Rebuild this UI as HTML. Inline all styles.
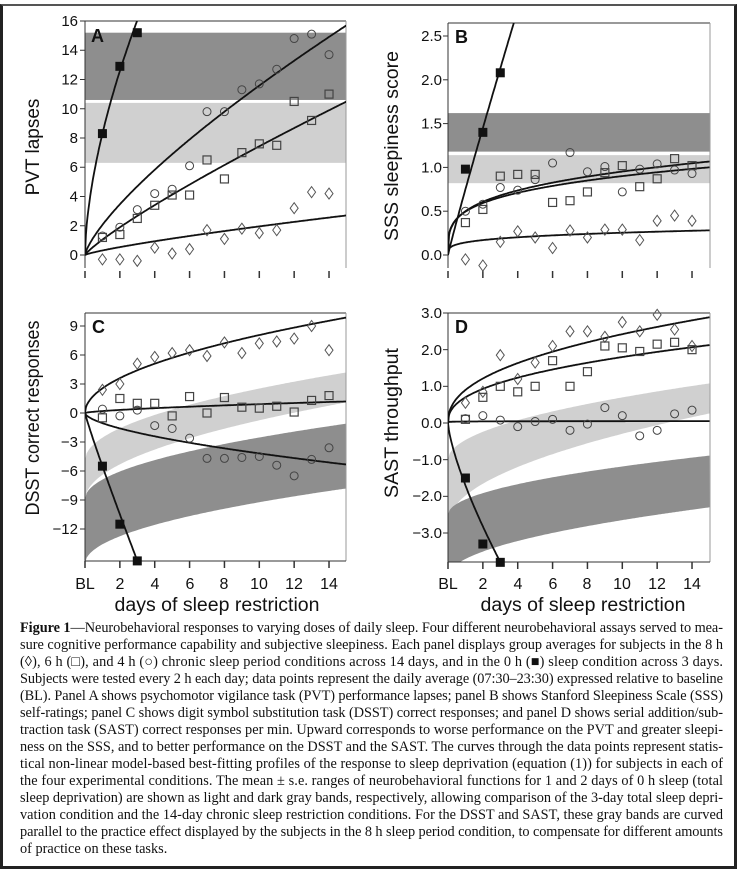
<!DOCTYPE html>
<html><head><meta charset="utf-8">
<style>
html,body{margin:0;padding:0;background:#fff;}
#wrap{position:relative;width:740px;height:871px;overflow:hidden;}
#frame{position:absolute;left:0px;top:4px;width:731px;height:860px;border:3px solid #222;border-top:2px solid #555;}
svg{position:absolute;left:0;top:0;}
</style></head><body>
<div id="wrap">
<div id="frame"></div>
<svg id="s" width="740" height="871" viewBox="0 0 740 871" font-family="Liberation Sans, DejaVu Sans, sans-serif">
<defs>
<clipPath id="cA"><rect x="85" y="21" width="261" height="247"/></clipPath>
<clipPath id="cB"><rect x="448" y="23" width="262" height="245"/></clipPath>
<clipPath id="cC"><rect x="85" y="313" width="261" height="248"/></clipPath>
<clipPath id="cD"><rect x="448" y="313" width="262" height="249"/></clipPath>
</defs>
<g id="g"></g>
<g font-size="15" fill="#111" text-anchor="end">
<text x="78" y="260">0</text><text x="78" y="231">2</text><text x="78" y="201.5">4</text><text x="78" y="172">6</text><text x="78" y="143">8</text><text x="78" y="114">10</text><text x="78" y="84.5">12</text><text x="78" y="55">14</text><text x="78" y="26">16</text>
<text x="442" y="260">0.0</text><text x="442" y="216">0.5</text><text x="442" y="172.5">1.0</text><text x="442" y="128.5">1.5</text><text x="442" y="85">2.0</text><text x="442" y="41">2.5</text>
<text x="78" y="331">9</text><text x="78" y="360">6</text><text x="78" y="389">3</text><text x="78" y="418">0</text><text x="78" y="447">−3</text><text x="78" y="476">−6</text><text x="78" y="505">−9</text><text x="78" y="534">−12</text>
<text x="442" y="318">3.0</text><text x="442" y="355">2.0</text><text x="442" y="391">1.0</text><text x="442" y="428">0.0</text><text x="442" y="465">−1.0</text><text x="442" y="501">−2.0</text><text x="442" y="538">−3.0</text>
</g>
<g font-size="16" fill="#111" text-anchor="middle">
<text x="85" y="589">BL</text><text x="120" y="589">2</text><text x="155" y="589">4</text><text x="190" y="589">6</text><text x="224" y="589">8</text><text x="259" y="589">10</text><text x="294" y="589">12</text><text x="329" y="589">14</text>
<text x="448" y="589">BL</text><text x="483" y="589">2</text><text x="518" y="589">4</text><text x="553" y="589">6</text><text x="587" y="589">8</text><text x="622" y="589">10</text><text x="657" y="589">12</text><text x="692" y="589">14</text>
</g>
<g font-size="19" fill="#111" text-anchor="middle">
<text x="217" y="611" textLength="205" lengthAdjust="spacingAndGlyphs">days of sleep restriction</text>
<text x="583" y="611" textLength="205" lengthAdjust="spacingAndGlyphs">days of sleep restriction</text>
<text transform="translate(39,147) rotate(-90)">PVT lapses</text>
<text transform="translate(398,146) rotate(-90)" textLength="190" lengthAdjust="spacingAndGlyphs">SSS sleepiness score</text>
<text transform="translate(39,418) rotate(-90)" textLength="195" lengthAdjust="spacingAndGlyphs">DSST correct responses</text>
<text transform="translate(398,423) rotate(-90)" textLength="150" lengthAdjust="spacingAndGlyphs">SAST throughput</text>
</g>
<g font-size="18" font-weight="bold" fill="#111">
<text x="91" y="42">A</text><text x="455" y="43">B</text><text x="92" y="333">C</text><text x="455" y="333">D</text>
</g>
<g font-family="Liberation Serif, serif" font-size="14.3" fill="#111">
<text x="20" y="632" textLength="703" lengthAdjust="spacing"><tspan font-weight="bold">Figure 1</tspan>—Neurobehavioral responses to varying doses of daily sleep. Four different neurobehavioral assays served to mea-</text>
<text x="20" y="649" textLength="703" lengthAdjust="spacing">sure cognitive performance capability and subjective sleepiness. Each panel displays group averages for subjects in the 8 h</text>
<text x="20" y="666" textLength="703" lengthAdjust="spacing">(◊), 6 h (□), and 4 h (○) chronic sleep period conditions across 14 days, and in the 0 h (■) sleep condition across 3 days.</text>
<text x="20" y="683" textLength="703" lengthAdjust="spacing">Subjects were tested every 2 h each day; data points represent the daily average (07:30–23:30) expressed relative to baseline</text>
<text x="20" y="700" textLength="703" lengthAdjust="spacing">(BL). Panel A shows psychomotor vigilance task (PVT) performance lapses; panel B shows Stanford Sleepiness Scale (SSS)</text>
<text x="20" y="717" textLength="703" lengthAdjust="spacing">self-ratings; panel C shows digit symbol substitution task (DSST) correct responses; and panel D shows serial addition/sub-</text>
<text x="20" y="734" textLength="703" lengthAdjust="spacing">traction task (SAST) correct responses per min. Upward corresponds to worse performance on the PVT and greater sleepi-</text>
<text x="20" y="751" textLength="703" lengthAdjust="spacing">ness on the SSS, and to better performance on the DSST and the SAST. The curves through the data points represent statis-</text>
<text x="20" y="768" textLength="703" lengthAdjust="spacing">tical non-linear model-based best-fitting profiles of the response to sleep deprivation (equation (1)) for subjects in each of</text>
<text x="20" y="785" textLength="703" lengthAdjust="spacing">the four experimental conditions. The mean ± s.e. ranges of neurobehavioral functions for 1 and 2 days of 0 h sleep (total</text>
<text x="20" y="802" textLength="703" lengthAdjust="spacing">sleep deprivation) are shown as light and dark gray bands, respectively, allowing comparison of the 3-day total sleep depri-</text>
<text x="20" y="819" textLength="703" lengthAdjust="spacing">vation condition and the 14-day chronic sleep restriction conditions. For the DSST and SAST, these gray bands are curved</text>
<text x="20" y="836" textLength="703" lengthAdjust="spacing">parallel to the practice effect displayed by the subjects in the 8 h sleep period condition, to compensate for different amounts</text>
<text x="20" y="853">of practice on these tasks.</text>
</g>
</svg>
</div>
<script>
(function(){
var G=document.getElementById("g"),out="";
var DX=17.43,DARK="#8e8e8e",LIGHT="#d0d0d0";
var P={
A:{x0:85,y0:255,sy:14.625,top:21,bot:268,r:346,clip:"cA",box:false,yt:[0,2,4,6,8,10,12,14,16]},
B:{x0:448,y0:255,sy:87.6,top:23,bot:268,r:710,clip:"cB",box:false,yt:[0,0.5,1,1.5,2,2.5]},
C:{x0:85,y0:413,sy:9.667,top:313,bot:561,r:346,clip:"cC",box:true,yt:[9,6,3,0,-3,-6,-9,-12]},
D:{x0:448,y0:423,sy:36.67,top:313,bot:562,r:710,clip:"cD",box:true,yt:[3,2,1,0,-1,-2,-3]}};
function X(p,t){return p.x0+t*DX;}function Y(p,v){return p.y0-v*p.sy;}
function flatBand(p,a,b,c){out+='<rect x="'+p.x0+'" y="'+Y(p,a)+'" width="'+(p.r-p.x0)+'" height="'+(Y(p,b)-Y(p,a))+'" fill="'+c+'"/>';}
function curvBand(p,ua,ub,la,lb,c){var t,pts=[];for(t=0;t<=15.001;t+=0.1)pts.push(X(p,t).toFixed(1)+","+Y(p,ua+(ub-ua)*Math.sqrt(t/15)).toFixed(1));
for(t=15;t>=-0.001;t-=0.1)pts.push(X(p,t).toFixed(1)+","+Y(p,la+(lb-la)*Math.sqrt(Math.max(t,0)/15)).toFixed(1));
out+='<polygon clip-path="url(#'+p.clip+')" points="'+pts.join(" ")+'" fill="'+c+'"/>';}
function curve(p,a,pw,tmax){var pts=[],t;for(t=0;t<=(tmax||15)+0.001;t+=0.05)pts.push(X(p,t).toFixed(1)+","+Y(p,a*Math.pow(t,pw)).toFixed(1));
out+='<polyline clip-path="url(#'+p.clip+')" points="'+pts.join(" ")+'" fill="none" stroke="#111" stroke-width="1.8"/>';}
function dia(p,d){d.forEach(function(v,i){var x=X(p,i+1),y=Y(p,v);out+='<polygon points="'+x+','+(y-5.5)+' '+(x+4)+','+y+' '+x+','+(y+5.5)+' '+(x-4)+','+y+'" fill="none" stroke="#555" stroke-width="1"/>';});}
function sq(p,d){d.forEach(function(v,i){var x=X(p,i+1),y=Y(p,v);out+='<rect x="'+(x-4)+'" y="'+(y-4)+'" width="8" height="8" fill="none" stroke="#444" stroke-width="1.2"/>';});}
function ci(p,d){d.forEach(function(v,i){var x=X(p,i+1),y=Y(p,v);out+='<circle cx="'+x+'" cy="'+y+'" r="4" fill="none" stroke="#444" stroke-width="1"/>';});}
function fs(p,d){d.forEach(function(v,i){var x=X(p,i+1),y=Y(p,v);out+='<rect x="'+(x-4.5)+'" y="'+(y-4.5)+'" width="9" height="9" fill="#111"/>';});}
function frame(p){var s='<g stroke="#333" stroke-width="1" fill="none">';
s+='<line x1="'+p.x0+'" y1="'+p.top+'" x2="'+p.r+'" y2="'+p.top+'"/>';
s+='<line x1="'+p.x0+'" y1="'+p.top+'" x2="'+p.x0+'" y2="'+p.bot+'"/>';
s+='<line x1="'+p.r+'" y1="'+p.top+'" x2="'+p.r+'" y2="'+p.bot+'" stroke="#999"/>';
p.yt.forEach(function(v){var y=Y(p,v);s+='<line x1="'+(p.x0-5)+'" y1="'+y+'" x2="'+p.x0+'" y2="'+y+'"/>';});
var ty1=p.box?p.bot:p.bot+3,ty2=p.box?p.bot+7:p.bot+10;
if(p.box)s+='<line x1="'+p.x0+'" y1="'+p.bot+'" x2="'+p.r+'" y2="'+p.bot+'"/>';
for(var t=0;t<=14;t+=2)s+='<line x1="'+X(p,t)+'" y1="'+ty1+'" x2="'+X(p,t)+'" y2="'+ty2+'" stroke-width="1.5"/>';
s+='</g>';out+=s;}
var A=P.A,B=P.B,C=P.C,D=P.D;
flatBand(A,15.2,10.6,DARK);flatBand(A,10.4,6.3,LIGHT);
flatBand(B,1.62,1.18,DARK);flatBand(B,1.14,0.82,LIGHT);
curvBand(C,-4.9,4.2,-9,1.1,LIGHT);curvBand(C,-8.9,-1.1,-15.6,-7.8,DARK);
curvBand(D,-1.0,1.08,-2.76,0.26,LIGHT);curvBand(D,-2.5,-0.89,-4.2,-2.3,DARK);
for(var k in P)frame(P[k]);
curve(A,0.31,0.8);curve(A,1.05,0.85);curve(A,2.06,0.75);curve(A,8.3,0.6,4);
curve(B,0.143,0.25);curve(B,0.5,0.28);curve(B,0.495,0.26);curve(B,0.75,0.95,4.5);
curve(C,2.55,0.5);curve(C,0.2,0.66);curve(C,-1.05,0.6);curve(C,-5.5,0.93,3.2);
curve(D,0.9,0.43);curve(D,0.7,0.41);curve(D,0.04,0.1);curve(D,-1.7,0.73,3.2);
dia(A,[-0.3,-0.3,-0.4,0.5,0.1,0.4,1.7,1.1,1.8,1.5,1.7,3.2,4.3,4.2]);
sq(A,[1.2,1.4,2.5,3.4,4.1,4.1,6.5,5.2,7.0,7.6,7.5,10.5,9.2,11.0]);
ci(A,[1.3,1.9,3.1,4.2,4.5,6.1,9.8,9.8,11.3,11.7,12.7,14.8,15.1,13.7]);
fs(A,[8.3,12.9,15.2]);
dia(B,[-0.05,-0.12,0.15,0.27,0.2,0.08,0.28,0.2,0.29,0.29,0.17,0.39,0.45,0.39]);
sq(B,[0.37,0.52,0.9,0.92,0.92,0.6,0.62,0.72,0.94,1.02,0.78,0.87,1.1,1.02]);
ci(B,[0.5,0.58,0.77,0.74,0.86,1.05,1.17,0.95,1.01,0.72,0.98,1.04,0.97,0.93]);
fs(B,[0.98,1.4,2.08]);
dia(C,[2.4,3.0,5.1,5.8,6.2,6.5,5.9,7.3,6.2,7.2,7.4,7.7,9.0,6.5]);
sq(C,[-0.5,1.5,1.0,1.0,-0.3,1.7,0.0,1.6,0.6,0.5,0.7,0.1,1.3,1.8]);
ci(C,[0.4,-0.3,0.3,-1.3,-1.6,-2.6,-4.7,-4.7,-4.6,-4.5,-5.4,-6.5,-4.8,-3.6]);
fs(C,[-5.5,-11.5,-15.3]);
dia(D,[0.55,0.85,1.85,1.2,1.65,2.1,2.5,2.5,2.35,2.75,2.5,2.95,2.55,2.1]);
sq(D,[0.1,0.7,1.0,0.85,1.0,1.7,1.0,1.4,2.1,2.05,1.95,2.15,2.2,2.0]);
ci(D,[0.12,0.2,0.08,-0.1,0.04,0.1,-0.2,-0.03,0.42,0.2,-0.35,-0.2,0.25,0.35]);
fs(D,[-1.5,-3.3,-3.8]);
G.innerHTML=out;
})();
</script>
</body></html>
